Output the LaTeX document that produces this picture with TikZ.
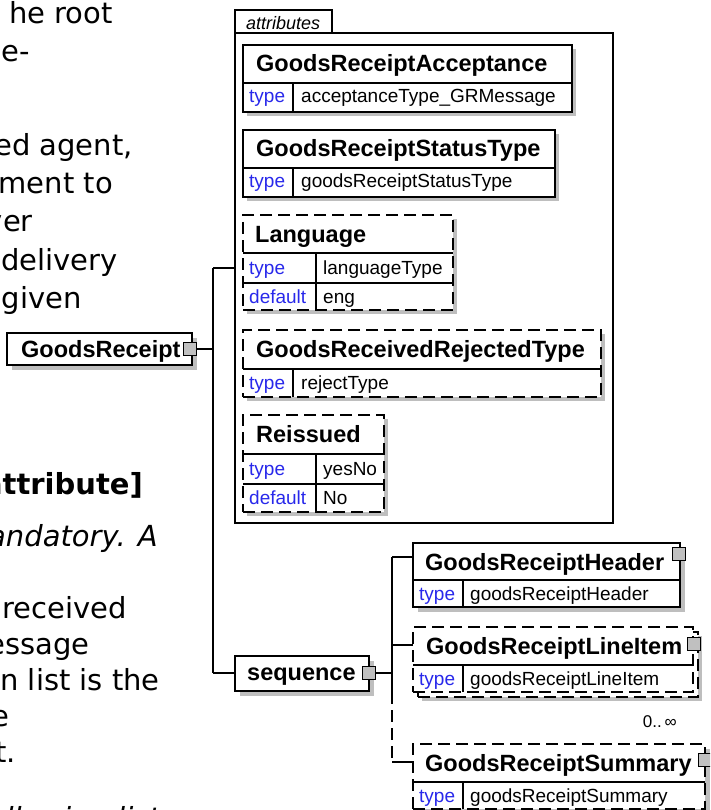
\documentclass[tikz,border=0pt]{standalone}
\usepackage{fontspec}
\setmainfont{Liberation Sans}
\newfontfamily\djv{DejaVu Sans}
\newcommand\myNameFont{\fontsize{23.5}{24}\selectfont\bfseries}
\newcommand\myValFont{\fontsize{19}{20}\selectfont}
\newcommand\myBodyFont{\djv\fontsize{29}{30}\selectfont}
\definecolor{shadowc}{RGB}{190,190,190}
\definecolor{sqgray}{RGB}{192,192,192}
\definecolor{typeblue}{RGB}{40,40,235}
\tikzset{
  ln/.style={line width=1.2pt, draw=black},
  box/.style={rectangle, draw=black, line width=1.2pt, fill=white, inner sep=0pt, outer sep=0pt, anchor=north west},
  dbox/.style={box, dash pattern=on 12pt off 6pt},
  shad/.style={rectangle, fill=shadowc, draw=none, inner sep=0pt, outer sep=0pt, anchor=north west},
  namet/.style={anchor=base west, inner sep=0pt, font=\myNameFont},
  typet/.style={anchor=base west, inner sep=0pt, font=\myValFont, text=typeblue},
  valt/.style={anchor=base west, inner sep=0pt, font=\myValFont},
  sqbox/.style={rectangle, draw=black, fill=sqgray, line width=1pt, minimum size=13pt, inner sep=0pt, outer sep=0pt},
  body/.style={anchor=base east, inner sep=0pt, font=\myBodyFont},
}
\begin{document}
\begin{tikzpicture}[x=1pt, y=-1pt]
\useasboundingbox (0,0) rectangle (710,810);
\clip (0,0) rectangle (710,810);
\fill[white] (0,0) rectangle (710,810);

% ---------- left body text (clipped) ----------
\node[body] (t1) at (113,24) {he root};
\node[body] (t2) at (30,62) {e-};
\node[body] (t3) at (133,156) {ed agent,};
\node[body] (t4) at (113,194) {ment to};
\node[body] (t5) at (33,232) {ver};
\node[body] (t6) at (118,270) {delivery};
\node[body] (t7) at (82,308) {given};
\node[body, font=\myBodyFont\bfseries] (t8) at (143,494) {attribute]};
\node[body, font=\myBodyFont\itshape] (t9) at (158,546) {andatory. A};
\node[body] (t10) at (127,618) {received};
\node[body] (t11) at (90,654) {essage};
\node[body] (t12) at (160,690) {n list is the};
\node[body] (t13) at (10,726) {e};
\node[body] (t14) at (16,762) {t.};
\node[body, font=\myBodyFont\itshape] (t15) at (160,828) {llowing list};

% ---------- root element ----------
\node[shad, minimum width=185pt, minimum height=32pt] (grS) at (12,338) {};
\node[box, minimum width=185pt, minimum height=32pt] (grB) at (7,333) {};
\node[namet] (grN) at (21,357) {GoodsReceipt};
\node[sqbox] (grSq) at (190,349) {};

% ---------- attributes container ----------
\draw[ln] (235,33) -- (235,10) -- (332,10) -- (332,33);
\node[box, fill=none, minimum width=378pt, minimum height=490pt] (attrB) at (235,33) {};
\node[anchor=base west, inner sep=0pt, font=\fontsize{18}{18}\selectfont\itshape] (attrT) at (246,30) {attributes};

% GoodsReceiptAcceptance
\node[shad, minimum width=329pt, minimum height=67pt] (a1S) at (247,49) {};
\node[box, minimum width=329pt, minimum height=67pt] (a1B) at (243,45) {};
\draw[ln] (243,83) -- (572,83);
\draw[ln] (293,83) -- (293,112);
\node[namet] (a1N) at (256,72) {GoodsReceiptAcceptance};
\node[typet] (a1T) at (249,103) {type};
\node[valt] (a1V) at (301,103) {acceptanceType\_GRMessage};

% GoodsReceiptStatusType
\node[shad, minimum width=312pt, minimum height=67pt] (a2S) at (247,134) {};
\node[box, minimum width=312pt, minimum height=67pt] (a2B) at (243,130) {};
\draw[ln] (243,168) -- (555,168);
\draw[ln] (293,168) -- (293,197);
\node[namet] (a2N) at (256,157) {GoodsReceiptStatusType};
\node[typet] (a2T) at (249,188) {type};
\node[valt] (a2V) at (301,188) {goodsReceiptStatusType};

% Language
\node[shad, minimum width=210pt, minimum height=95pt] (a3S) at (247,219) {};
\node[dbox, minimum width=210pt, minimum height=95pt] (a3B) at (243,215) {};
\draw[ln] (243,253) -- (453,253);
\draw[ln] (243,283) -- (453,283);
\draw[ln] (316,253) -- (316,310);
\node[namet] (a3N) at (255,242) {Language};
\node[typet] (a3T) at (249,274) {type};
\node[valt] (a3V) at (323,274) {languageType};
\node[typet] (a3D) at (249,303) {default};
\node[valt] (a3E) at (323,303) {eng};

% GoodsReceivedRejectedType
\node[shad, minimum width=358pt, minimum height=67pt] (a4S) at (247,334) {};
\node[dbox, minimum width=358pt, minimum height=67pt] (a4B) at (243,330) {};
\draw[ln] (243,369) -- (601,369);
\draw[ln] (293,369) -- (293,397);
\node[namet] (a4N) at (256,357) {GoodsReceivedRejectedType};
\node[typet] (a4T) at (249,389) {type};
\node[valt] (a4V) at (301,389) {rejectType};

% Reissued
\node[shad, minimum width=141pt, minimum height=97pt] (a5S) at (247,419) {};
\node[dbox, minimum width=141pt, minimum height=97pt] (a5B) at (243,415) {};
\draw[ln] (243,454) -- (384,454);
\draw[ln] (243,484) -- (384,484);
\draw[ln] (316,454) -- (316,512);
\node[namet] (a5N) at (256,442) {Reissued};
\node[typet] (a5T) at (249,475) {type};
\node[valt] (a5V) at (323,475) {yesNo};
\node[typet] (a5D) at (249,504) {default};
\node[valt] (a5E) at (323,504) {No};

% ---------- sequence ----------
\node[shad, minimum width=134pt, minimum height=35pt] (seqS) at (240,661) {};
\node[box, minimum width=134pt, minimum height=35pt] (seqB) at (235,656) {};
\node[namet] (seqN) at (247,680) {sequence};
\node[sqbox] (seqSq) at (368.5,673) {};

% GoodsReceiptHeader
\node[shad, minimum width=267pt, minimum height=64pt] (hS) at (418,548) {};
\node[box, minimum width=267pt, minimum height=64pt] (hB) at (413,543) {};
\draw[ln] (413,580) -- (680,580);
\draw[ln] (463,580) -- (463,607);
\node[namet] (hN) at (425,570) {GoodsReceiptHeader};
\node[typet] (hT) at (419,600) {type};
\node[valt] (hV) at (470,600) {goodsReceiptHeader};
\node[sqbox] (hSq) at (678.5,554) {};

% GoodsReceiptLineItem (multiple)
\node[shad, minimum width=280pt, minimum height=65pt] (liS) at (422,636) {};
\node[dbox, minimum width=280pt, minimum height=65pt] (liB2) at (418,632) {};
\node[dbox, minimum width=280pt, minimum height=65pt] (liB) at (413,627) {};
\draw[ln] (413,665) -- (693,665);
\draw[ln] (463,665) -- (463,692);
\node[namet] (liN) at (426,654) {GoodsReceiptLineItem};
\node[typet] (liT) at (419,685) {type};
\node[valt] (liV) at (470,685) {goodsReceiptLineItem};
\node[sqbox] (liSq) at (694,644) {};
\node[anchor=base east, inner sep=0pt, font=\fontsize{17}{17}\selectfont] (liOcc) at (677,727) {0..\,∞};

% GoodsReceiptSummary
\node[shad, minimum width=292pt, minimum height=65pt] (suS) at (418,749) {};
\node[dbox, minimum width=292pt, minimum height=65pt] (suB) at (413,744) {};
\draw[ln] (413,782) -- (705,782);
\draw[ln] (463,782) -- (463,809);
\node[namet] (suN) at (425,771) {GoodsReceiptSummary};
\node[typet] (suT) at (419,802) {type};
\node[valt] (suV) at (470,802) {goodsReceiptSummary};
\node[sqbox] (suSq) at (704.5,760) {};

% ---------- connectors ----------
\coordinate (j1) at (213,349);
\coordinate (jTop) at (213,268);
\coordinate (jBot) at (213,673);
\draw[ln] (grSq.east) -- (j1);
\draw[ln] (jTop) -- (jBot);
\draw[ln] (jTop) -- (attrB.west |- jTop);
\draw[ln] (jBot) -- (seqB.west |- jBot);

\coordinate (s1) at (392,673);
\coordinate (sH) at (392,557);
\coordinate (sL) at (392,645);
\coordinate (sM) at (392,692);
\coordinate (sS) at (392,762);
\draw[ln] (seqSq.east) -- (s1);
\draw[ln] (sH) -- (sM);
\draw[ln, dash pattern=on 12pt off 6pt] (sM) -- (sS);
\draw[ln] (sH) -- (hB.west |- sH);
\draw[ln] (sL) -- (liB.west |- sL);
\draw[ln] (sS) -- (suB.west |- sS);
\end{tikzpicture}
\end{document}
